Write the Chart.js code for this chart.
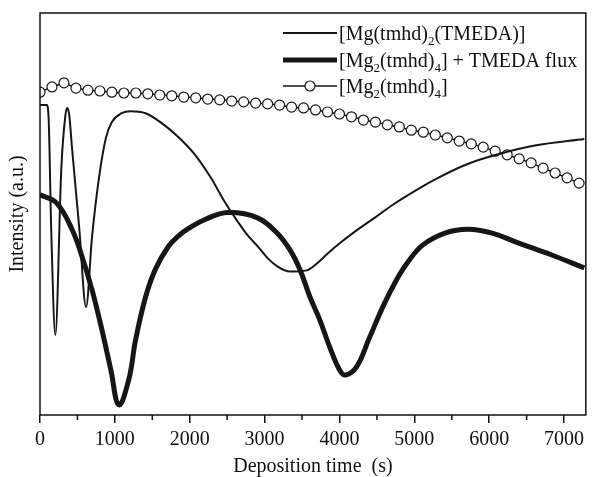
<!DOCTYPE html>
<html>
<head>
<meta charset="utf-8">
<script src="https://cdn.jsdelivr.net/npm/chart.js@4/dist/chart.umd.min.js"></script>
<style>
  body { margin: 0; background: #fff; }
  canvas { display: block; }
</style>
</head>
<body>
<canvas id="grafico" width="592" height="477"></canvas>
<script>
// [Mg(tmhd)2(TMEDA)] - thin line
var tempoFino = [0, 90, 115, 150, 205, 285, 340, 365, 390, 430, 524, 615, 695, 788, 881, 960, 1090, 1209, 1410,
  1622, 1847, 2071, 2283, 2468, 2640, 2772, 2905, 3037, 3169, 3341, 3566, 3699, 3850, 4003, 4228, 4492, 4717, 4850,
  5285, 5720, 6170, 6610, 7270];
var intFino = [77.2, 77.2, 74.0, 46.3, 20.3, 61.6, 74.8, 76.5, 74.8, 66.1, 46.8, 27.2, 44.6, 59.2, 69.1, 73.0, 75.2,
  75.7, 75.2, 72.8, 69.3, 64.9, 59.2, 53.2, 48.4, 45.0, 42.3, 39.4, 37.3, 36.0, 36.3, 38.0, 40.6, 43.0, 46.2, 49.6,
  52.6, 54.2, 58.9, 62.7, 65.3, 67.2, 68.8];

// [Mg2(tmhd)4] + TMEDA flux - thick line
var tempoGrosso = [0, 220, 431, 563, 696, 828, 947, 1053, 1185, 1277, 1410, 1542, 1714, 1847, 1980, 2204, 2508, 2905,
  3169, 3341, 3474, 3606, 3738, 3870, 4003, 4082, 4228, 4400, 4585, 4757, 4900, 5114, 5418, 5720, 6040, 6385, 6835, 7270];
var intGrosso = [55.0, 53.0, 46.3, 39.6, 31.4, 21.5, 11.6, 3.0, 9.2, 19.1, 29.7, 36.6, 42.2, 44.8, 46.6, 48.9, 50.6, 49.3,
  45.5, 41.3, 36.4, 29.7, 24.0, 17.3, 11.6, 10.4, 12.4, 19.6, 27.5, 33.8, 38.0, 42.6, 45.6, 46.5, 45.5, 43.1, 40.1, 36.9];

// [Mg2(tmhd)4] - circles
var tempoCirc = [0, 160, 320, 480, 640, 800, 960, 1120, 1280, 1440, 1600, 1760, 1920, 2080, 2240, 2400, 2560, 2720,
  2880, 3040, 3200, 3360, 3520, 3680, 3840, 4000, 4160, 4320, 4480, 4640, 4800, 4960, 5120, 5280, 5440, 5600,
  5760, 5920, 6080, 6240, 6400, 6560, 6720, 6880, 7040, 7200];
var intCirc = [80.4, 81.7, 82.7, 81.4, 80.9, 80.7, 80.4, 80.2, 80.2, 80.0, 79.7, 79.5, 79.2, 79.0, 78.7, 78.5, 78.2,
  78.0, 77.7, 77.5, 77.2, 76.7, 76.5, 76.0, 75.5, 75.0, 74.3, 73.5, 73.0, 72.3, 71.8, 71.0, 70.5, 69.8, 69.1, 68.3,
  67.6, 66.8, 65.8, 64.9, 63.9, 62.9, 61.6, 60.4, 59.2, 57.9];

var ticksX = [0, 1000, 2000, 3000, 4000, 5000, 6000, 7000];
var ticksMenores = [500, 1500, 2500, 3500, 4500, 5500, 6500];

var legenda = [
  { base: '[Mg(tmhd)', sub: '2', resto: '(TMEDA)]' },
  { base: '[Mg', sub: '2', resto: '(tmhd)', sub2: '4', resto2: '] + TMEDA flux' },
  { base: '[Mg', sub: '2', resto: '(tmhd)', sub2: '4', resto2: ']' }
];

var fonte = '"Liberation Serif", "Times New Roman", serif';

function juntar(xs, ys) {
  return xs.map(function(x, i) { return { x: x, y: ys[i] }; });
}

var molduraPlugin = {
  id: 'moldura',
  afterDraw: function(chart) {
    var ctx = chart.ctx;
    var a = chart.chartArea;
    var x = chart.scales.x;
    ctx.save();
    ctx.strokeStyle = '#111';
    ctx.lineWidth = 1.5;
    ctx.strokeRect(a.left, a.top, a.right - a.left, a.bottom - a.top);
    // minor ticks
    ticksMenores.forEach(function(v) {
      var px = x.getPixelForValue(v);
      ctx.beginPath();
      ctx.moveTo(px, a.bottom);
      ctx.lineTo(px, a.bottom + 5);
      ctx.stroke();
    });
    // legend
    var x0 = 283, x1 = 337, xt = 339;
    var linhas = [33, 60, 86];
    chart.data.datasets.forEach(function(ds, i) {
      var y = linhas[i];
      ctx.strokeStyle = ds.borderColor;
      ctx.lineWidth = ds.borderWidth;
      ctx.beginPath();
      ctx.moveTo(x0, y);
      ctx.lineTo(x1, y);
      ctx.stroke();
      if (ds.pointRadius > 0) {
        ctx.beginPath();
        ctx.arc((x0 + x1) / 2, y, ds.pointRadius, 0, Math.PI * 2);
        ctx.fillStyle = '#fff';
        ctx.fill();
        ctx.lineWidth = ds.pointBorderWidth;
        ctx.stroke();
      }
      var item = legenda[i];
      var cx = xt;
      var base = y + 7;
      ctx.fillStyle = '#111';
      ctx.textBaseline = 'alphabetic';
      var partes = [[item.base, false], [item.sub, true], [item.resto, false], [item.sub2, true], [item.resto2, false]];
      partes.forEach(function(p) {
        if (!p[0]) return;
        ctx.font = (p[1] ? '13px ' : '20px ') + fonte;
        ctx.fillText(p[0], cx, p[1] ? base + 5 : base);
        cx += ctx.measureText(p[0]).width;
      });
    });
    ctx.restore();
  }
};

var ctx = document.getElementById('grafico').getContext('2d');
var grafico = new Chart(ctx, {
  type: 'line',
  data: {
    datasets: [
      {
        label: '[Mg(tmhd)2(TMEDA)]',
        data: juntar(tempoFino, intFino),
        borderColor: '#161616',
        borderWidth: 2,
        pointRadius: 0,
        cubicInterpolationMode: 'monotone',
        fill: false
      },
      {
        label: '[Mg2(tmhd)4] + TMEDA flux',
        data: juntar(tempoGrosso, intGrosso),
        borderColor: '#161616',
        borderWidth: 5,
        pointRadius: 0,
        tension: 0.4,
        fill: false
      },
      {
        label: '[Mg2(tmhd)4]',
        data: juntar(tempoCirc, intCirc),
        borderColor: '#161616',
        borderWidth: 1.5,
        pointRadius: 5,
        pointBackgroundColor: '#fff',
        pointBorderColor: '#161616',
        pointBorderWidth: 1.2,
        tension: 0,
        fill: false
      }
    ]
  },
  options: {
    responsive: false,
    animation: false,
    layout: { padding: { top: 13, right: 0, left: 0, bottom: 0 } },
    plugins: {
      legend: { display: false },
      tooltip: { enabled: false }
    },
    scales: {
      x: {
        type: 'linear',
        min: 0,
        max: 7290,
        afterBuildTicks: function(s) { s.ticks = ticksX.map(function(v) { return { value: v }; }); },
        afterFit: function(s) { s.height = 62; s.paddingRight = 0; },
        border: { display: false },
        grid: { drawOnChartArea: false, drawTicks: true, tickLength: 8, color: '#111', lineWidth: 1.5 },
        ticks: {
          color: '#111', padding: 5, maxRotation: 0, font: { family: fonte, size: 20 },
          callback: function(v) { return String(v); }
        },
        title: { display: true, text: 'Deposition time  (s)', color: '#111', padding: { top: 0, bottom: -2 }, font: { family: fonte, size: 20 } }
      },
      y: {
        min: 0.5,
        max: 100,
        afterFit: function(s) { s.width = 40; },
        border: { display: false },
        grid: { display: false },
        ticks: { display: false },
        title: { display: true, text: 'Intensity (a.u.)', color: '#111', padding: { top: 6, bottom: 4 }, font: { family: fonte, size: 20 } }
      }
    }
  },
  plugins: [molduraPlugin]
});
</script>
</body>
</html>
